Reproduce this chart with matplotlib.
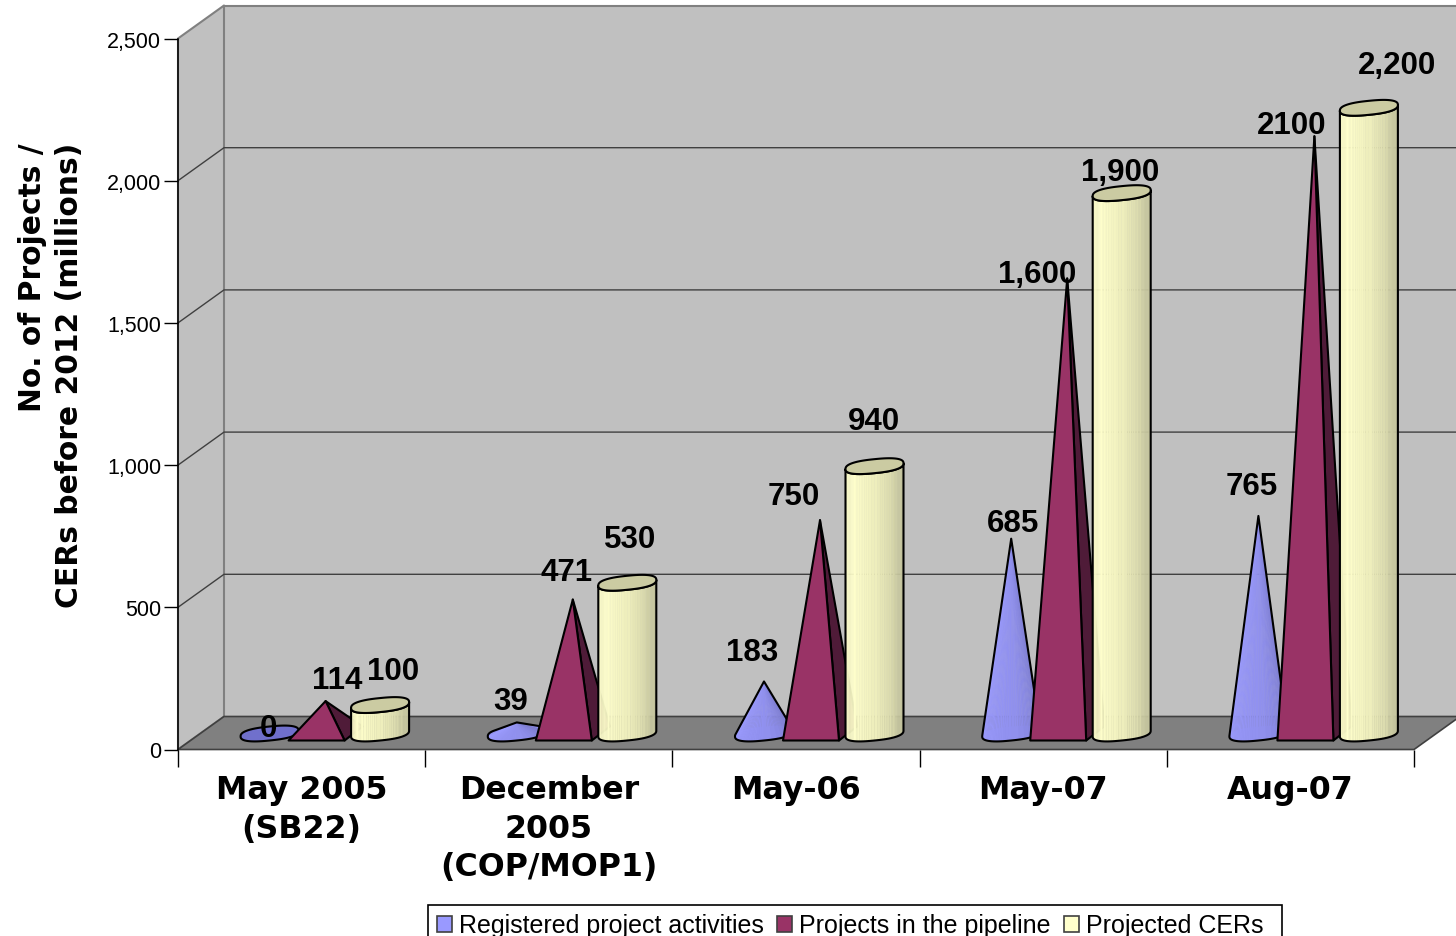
import numpy as np
import matplotlib
matplotlib.use("Agg")
import matplotlib.pyplot as plt
from matplotlib.patches import Polygon, Patch, Rectangle
from matplotlib.colors import to_rgb

categories = ["May 2005\n(SB22)", "December\n2005\n(COP/MOP1)", "May-06", "May-07", "Aug-07"]
registered = [0, 39, 183, 685, 765]
pipeline = [114, 471, 750, 1600, 2100]
projected = [100, 530, 940, 1900, 2200]
series_names = ["Registered project activities", "Projects in the pipeline", "Projected CERs"]
labels_reg = ["0", "39", "183", "685", "765"]
labels_pipe = ["114", "471", "750", "1,600", "2100"]
labels_proj = ["100", "530", "940", "1,900", "2,200"]
yticks = [0, 500, 1000, 1500, 2000, 2500]

# label centre offsets from the centre of the category, and above the value (pixels)
off_reg = [(-33, 5), (-38, 21), (-44, 29), (-30, 16), (-39, 30)]
off_pipe = [(36, 21), (18, 28), (-2, 24), (-6, 4), (1, 11)]
off_proj = [(91, 34), (81, 44), (78, 45), (77, 21), (107, 43)]

W, H = 1456, 937
L, R, B, T = 178, 1414, 750.5, 39.5
sx = (R - L) / 5.0
sy = (B - T) / 2500.0
DX, DY = 46, 33
BASE = 16
OFF = (-32, 24, 78.5)

fig = plt.figure(figsize=(W / 100, H / 100), dpi=100, facecolor="white")
ax = fig.add_axes([L / W, (H - B) / H, (R - L) / W, (B - T) / H])
ax.set_xlim(0, 5)
ax.set_ylim(0, 2500)
ax.patch.set_alpha(0)


def P(x, v, ox=0.0, oy=0.0):
    return (x + np.asarray(ox) / sx, v + np.asarray(oy) / sy)


def poly(pts, fc, ec="none", lw=0, z=2, **kw):
    p = Polygon(np.array(pts), closed=True, facecolor=fc, edgecolor=ec, linewidth=lw,
                clip_on=False, zorder=z, joinstyle="round", **kw)
    ax.add_patch(p)
    return p


def ramp(stops, s):
    xs = [a for a, _ in stops]
    cs = np.array([to_rgb(c) for _, c in stops])
    return tuple(np.interp(s, xs, cs[:, i]) for i in range(3))


def ellipse_px(t):
    c, s = np.cos(t), np.sin(t)
    x = 29 * np.sign(c) * np.abs(c) ** 0.8
    y = -7 * np.sign(s) * np.abs(s) ** 0.8 - 0.1 * x
    return x, y


def hull(points):
    pts = sorted(set(map(tuple, np.round(points, 3))))
    def half(seq):
        out = []
        for p in seq:
            while len(out) > 1 and ((out[-1][0]-out[-2][0])*(p[1]-out[-2][1]) -
                                    (out[-1][1]-out[-2][1])*(p[0]-out[-2][0])) <= 0:
                out.pop()
            out.append(p)
        return out
    a, b = half(pts), half(pts[::-1])
    return np.array(a[:-1] + b[:-1])


# walls, floor and gridlines
gx = lambda px: (px - L) / sx
gy = lambda py: (B - py) / sy
poly([(gx(L + DX), gy(T - DY)), (gx(1480), gy(T - DY)), (gx(1480), gy(B - DY)), (gx(L + DX), gy(B - DY))],
     "#C0C0C0", z=0.5)
poly([(0, 2500), (gx(L + DX), gy(T - DY)), (gx(L + DX), gy(B - DY)), (0, 0)],
     "#C0C0C0", ec="#808080", lw=1.5, z=0.6)
poly([(0, 0), (5, 0), (gx(R + DX), gy(B - DY)), (gx(L + DX), gy(B - DY))],
     "#808080", ec="#404040", lw=1.2, z=0.7)
for v in yticks[1:-1]:
    xv, yv = P(0, v, DX, DY)
    ax.plot([0, xv, gx(1480)], [v, yv, yv], color="#404040", lw=1.0, clip_on=False, zorder=0.65)
ax.plot([gx(L + DX), gx(1480)], [gy(T - DY)] * 2, color="#808080", lw=1.5, clip_on=False, zorder=0.65)

CONE = [(0, "#9C9CFF"), (0.5, "#9090EE"), (1, "#7C7CCC")]
CYL = [(0, "#F4F4C4"), (0.12, "#FFFFCC"), (0.5, "#EEEEBC"), (0.8, "#D8D8AC"), (1, "#C0C09A")]
PY_FRONT, PY_SIDE = "#993366", "#4F1B38"
CYL_TOP = "#CBCBA2"
EDGE = 1.5

T_ALL = np.linspace(0, 2 * np.pi, 97)
tfront = np.linspace(np.pi, 2 * np.pi, 49)   # left to right along the front


def cone(c, val, z):
    cx = c + 0.5
    ex, ey = ellipse_px(T_ALL)
    bx, by = P(cx, 0, OFF[0] + ex, BASE - ey)
    ax_, ay_ = P(cx, val, OFF[0], BASE)
    if val == 0:
        poly(np.c_[bx, by], "#7070CC", ec="black", lw=EDGE, z=z)
        return
    fx, fy = ellipse_px(tfront)
    qx, qy = P(cx, 0, OFF[0] + fx, BASE - fy)
    poly(np.c_[bx, by], "#9090EE", z=z)
    for i in range(len(tfront) - 1):
        s = i // 3 * 3 / (len(tfront) - 2)
        poly([(ax_, ay_), (qx[i], qy[i]), (qx[i + 1], qy[i + 1])], ramp(CONE, s), ec=ramp(CONE, s), lw=0.3, z=z)
    h = hull(np.vstack([np.c_[bx, by] * [sx, sy], [[ax_ * sx, ay_ * sy]]]))
    poly(h / [sx, sy], "none", ec="black", lw=EDGE, z=z + 0.1)


def pyramid(c, val, z):
    cx = c + 0.5
    apex = P(cx, val, OFF[1], BASE)
    fl = P(cx, 0, OFF[1] - 37, BASE - 7)
    fr = P(cx, 0, OFF[1] + 19, BASE - 7)
    br = P(cx, 0, OFF[1] + 37, BASE + 7)
    poly([apex, fr, br], PY_SIDE, ec="black", lw=EDGE, z=z)
    poly([apex, fl, fr], PY_FRONT, ec="black", lw=EDGE, z=z + 0.1)


def cylinder(c, val, z):
    cx = c + 0.5
    fx, fy = ellipse_px(tfront)
    xb, yb = P(cx, 0, OFF[2] + fx, BASE - fy)
    xt, yt = P(cx, val, OFF[2] + fx, BASE - fy)
    for i in range(len(tfront) - 1):
        s = (fx[i] + fx[i + 1]) / 2 / (2 * fx.max()) + 0.5
        s = round(s * 16) / 16
        col = ramp(CYL, s)
        poly([(xb[i], yb[i]), (xb[i + 1], yb[i + 1]), (xt[i + 1], yt[i + 1]), (xt[i], yt[i])],
             col, ec=col, lw=0.3, z=z)
    outline = np.r_[np.c_[xb, yb], np.c_[xt, yt][::-1]]
    poly(outline, "none", ec="black", lw=EDGE, z=z + 0.1)
    ex, ey = ellipse_px(T_ALL)
    tx, ty = P(cx, val, OFF[2] + ex, BASE - ey)
    poly(np.c_[tx, ty], CYL_TOP, ec="black", lw=EDGE, z=z + 0.2)


for c in range(5):
    cone(c, registered[c], 3 + c)
    pyramid(c, pipeline[c], 3.3 + c)
    cylinder(c, projected[c], 3.6 + c)

bold = dict(family="Liberation Sans", fontweight="bold", fontsize=22.5, ha="center", va="center",
            color="black", zorder=20, clip_on=False)
for c in range(5):
    for vals, texts, offs in ((registered, labels_reg, off_reg),
                              (pipeline, labels_pipe, off_pipe),
                              (projected, labels_proj, off_proj)):
        ox, oy = offs[c]
        x, y = P(c + 0.5, vals[c], ox, oy + BASE)
        ax.text(x, y, texts[c], **bold)

# axes
for s in ("top", "right", "bottom"):
    ax.spines[s].set_visible(False)
ax.spines["left"].set_color("black")
ax.spines["left"].set_linewidth(1.1)
ax.spines["left"].set_zorder(1)
ax.set_yticks(yticks, [f"{v:,}" for v in yticks], family="Liberation Sans", fontsize=15.5)
ax.tick_params(axis="y", length=10, width=1.0, color="black", pad=2)
ax.set_xticks(range(6), [""] * 6)
ax.tick_params(axis="x", which="major", length=12, width=1.0, color="black")
ax.set_xticks(np.arange(5) + 0.5, categories, minor=True, family="DejaVu Sans", fontweight="bold",
              fontsize=22.8, linespacing=1.31)
ax.tick_params(axis="x", which="minor", length=0, pad=18)
ax.set_ylabel("No. of Projects /\nCERs before 2012 (millions)", family="DejaVu Sans", fontweight="bold",
              fontsize=21.4, multialignment="right", linespacing=1.33, ha="right")
ax.yaxis.set_label_coords(-(L - 84) / (R - L), (B - 143) / (B - T))

fig.add_artist(Rectangle((428 / W, -10 / H), 854 / W, 41 / H, transform=fig.transFigure,
                         facecolor="white", edgecolor="black", linewidth=1.2, zorder=1))
handles = [Patch(facecolor=c, edgecolor="#404040", linewidth=1.2) for c in ("#9999FF", "#993366", "#FFFFCC")]
leg = fig.legend(handles, series_names, ncol=3, loc="lower left",
                 bbox_to_anchor=(437 / W, -1.5 / H), bbox_transform=fig.transFigure,
                 frameon=False, prop={"family": "Liberation Sans", "size": 18}, borderaxespad=0, borderpad=0,
                 handlelength=0.6, handleheight=0.6, handletextpad=0.28, columnspacing=0.53)
leg.set_zorder(2)

fig.savefig("out.png", dpi=100, facecolor="white")
